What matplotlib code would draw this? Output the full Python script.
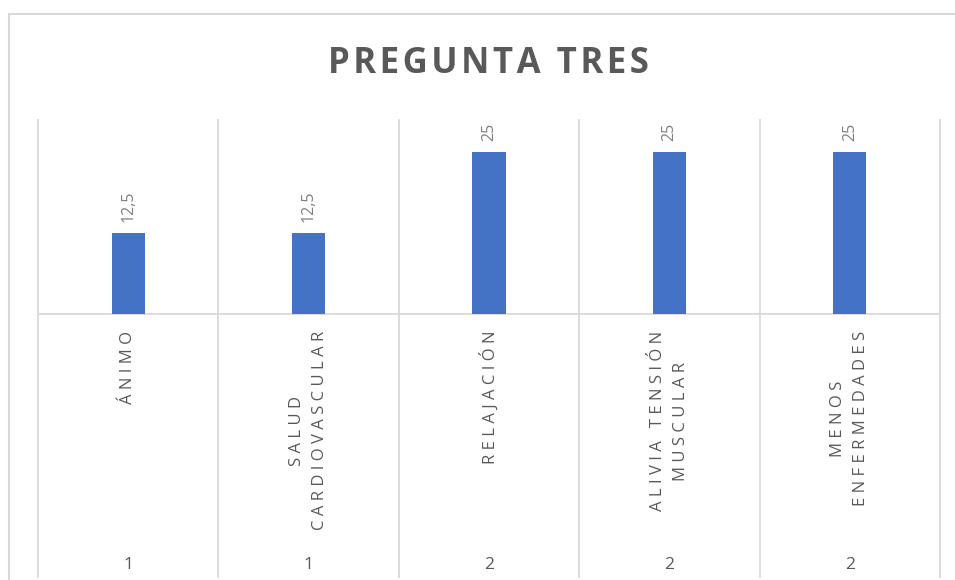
import matplotlib
matplotlib.use('Agg')
import matplotlib.pyplot as plt
import matplotlib.transforms as mtransforms
from matplotlib.lines import Line2D

plt.rcParams['font.family'] = ['Open Sans', 'DejaVu Sans']

# === datos ===
categorias = ["ÁNIMO", "SALUD\nCARDIOVASCULAR", "RELAJACIÓN",
              "ALIVIA TENSIÓN\nMUSCULAR", "MENOS\nENFERMEDADES"]
grupos = ["1", "1", "2", "2", "2"]
valores = [12.5, 12.5, 25, 25, 25]
etiquetas = ["12,5", "12,5", "25", "25", "25"]

titulo = "PREGUNTA TRES"

azul = '#4472C4'
gris_linea = '#d9d9d9'
gris_texto = '#595959'


def espaciado(txt, sep=u'\u2009'):
    # imitar el espaciado entre letras de Excel
    lineas = []
    for linea in txt.split("\n"):
        lineas.append(sep.join(list(linea)))
    return "\n".join(lineas)


W, H = 955, 580
fig = plt.figure(figsize=(W / 100.0, H / 100.0), dpi=100)
ax = fig.add_axes([38.0 / W, 1 - 314.0 / H, 902.0 / W, 194.0 / H])

x = list(range(len(valores)))
ax.bar(x, valores, width=0.185, color=azul, zorder=3)

ax.set_xlim(-0.5, len(valores) - 0.5)
ax.set_ylim(0, 30)
ax.set_xticks([])
ax.set_yticks([])
for s in ax.spines.values():
    s.set_visible(False)

# linea del eje
ax.axhline(0, color=gris_linea, lw=1.3, zorder=2, clip_on=False)

# separadores verticales (rejilla + niveles de categoria)
trans = mtransforms.blended_transform_factory(ax.transData, ax.transAxes)
y_abajo = -(577.0 - 314.0) / 194.0
for i in range(len(valores) + 1):
    ax.plot([i - 0.5, i - 0.5], [y_abajo, 1.0], transform=trans,
            color=gris_linea, lw=1.3, clip_on=False, zorder=1)

# etiquetas de datos
for xi, v, et in zip(x, valores, etiquetas):
    ax.annotate(et, (xi, v), xytext=(0, 8), textcoords='offset points',
                rotation=90, ha='center', va='bottom', fontsize=11.5,
                color='#7f7f7f')

# nivel 1: nombres de categoria
for xi, cat in zip(x, categorias):
    ax.text(xi, -(331.0 - 314.0) / 194.0, espaciado(cat, u'\u2009\u200a'),
            transform=trans, rotation=90, ha='center', va='top',
            multialignment='center', fontsize=12, color=gris_texto,
            linespacing=1.6)

# nivel 2: grupos
for xi, g in zip(x, grupos):
    ax.text(xi, -(569.0 - 314.0) / 194.0, g, transform=trans,
            ha='center', va='baseline', fontsize=12.5, color=gris_texto)

# titulo
fig.text(488.0 / W, 1 - 73.0 / H, espaciado(titulo, u'\u200a'), ha='center',
         va='baseline', fontsize=25, fontweight='bold', color=gris_texto)

# borde del grafico
fig.add_artist(Line2D([8.5 / W, 8.5 / W], [0, 1 - 14.0 / H],
                      color=gris_linea, lw=1.5))
fig.add_artist(Line2D([8.5 / W, 1.0], [1 - 14.0 / H, 1 - 14.0 / H],
                      color=gris_linea, lw=1.5))

fig.savefig('out.png', dpi=100, facecolor='white')
